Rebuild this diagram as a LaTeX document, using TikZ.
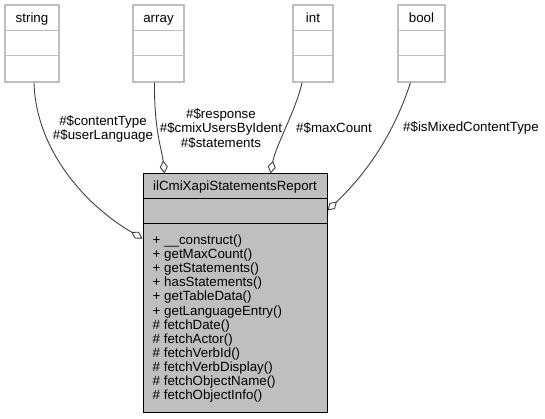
\documentclass[tikz,border=0pt]{standalone}
\usepackage{fontspec}
\setmainfont{Liberation Sans}
\usetikzlibrary{arrows.meta}
\definecolor{boxgray}{HTML}{BFBFBF}
\definecolor{edgegray}{HTML}{404040}

\begin{document}
\begin{tikzpicture}[x=1pt, y=-1pt,
    font=\fontsize{13.33}{14.1}\selectfont,
    typebox/.style={draw=boxgray, line width=1.3pt, fill=white, inner sep=0pt},
    mainbox/.style={draw=black, fill=boxgray, line width=1pt, inner sep=0pt},
    member/.style={draw=edgegray, line width=0.9pt,
        -{Diamond[open, length=13pt, width=8pt, line width=0.9pt]}},
    lbl/.style={align=center, inner sep=0pt, text=black}]

        \useasboundingbox (0,0) rectangle (545,419);

        %Type boxes
        \node [typebox, minimum width=54pt, minimum height=77pt] (string) at (32,43.5)  {};
        \node [typebox, minimum width=51pt, minimum height=77pt] (array)  at (158.5,43.5) {};
        \node [typebox, minimum width=40pt, minimum height=77pt] (int)    at (313,43.5) {};
        \node [typebox, minimum width=47pt, minimum height=77pt] (bool)   at (421.5,43.5) {};
        \foreach \t in {string, array, int, bool} {
          \node [anchor=base] (\t-name) at ([yshift=-18]\t.north) {\t};
          \draw [boxgray, line width=1.3pt] ([yshift=-26]\t.north west) -- ([yshift=-26]\t.north east);
          \draw [boxgray, line width=1.3pt] ([yshift=-51]\t.north west) -- ([yshift=-51]\t.north east);
        }

        %Report class
        \node [mainbox, minimum width=184pt, minimum height=238pt] (main) at (235,293) {};
        \node [anchor=base] (main-name) at ([yshift=-17]main.north) {ilCmiXapiStatementsReport};
        \draw [line width=1pt] ([yshift=-25]main.north west) -- ([yshift=-25]main.north east);
        \draw [line width=1.3pt] ([yshift=-50]main.north west) -- ([yshift=-50]main.north east);
        \foreach \m [count=\i from 0] in {+ \_\_construct(), + getMaxCount(), + getStatements(),
            + hasStatements(), + getTableData(), + getLanguageEntry(), \# fetchDate(),
            \# fetchActor(), \# fetchVerbId(), \# fetchVerbDisplay(), \# fetchObjectName(),
            \# fetchObjectInfo()}
          \node [anchor=base west, inner sep=0pt] (m\i) at ([xshift=10, yshift={-71-14.1*\i}]main.north west) {\m};

        %Members
        \draw [member] ([xshift=2]string.south) .. controls (36,150) and (85,205) .. ([yshift=-65]main.north west);
        \draw [member] ([xshift=-4]array.south) .. controls (154,130) and (162,150) .. ([xshift=22]main.north west);
        \draw [member] ([xshift=-11]int.south) .. controls (296,110) and (276,145) .. ([xshift=128]main.north west);
        \draw [member] ([xshift=-11]bool.south) .. controls (395,130) and (370,170) .. ([yshift=-37]main.north east);

        %Labels
        \node [lbl] (ct-lbl)   at (103,129) {\#\$contentType\\\#\$userLanguage};
        \node [lbl] (arr-lbl)  at (221,128.5) {\#\$response\\\#\$cmixUsersByIdent\\\#\$statements};
        \node [lbl] (int-lbl)  at (334,128) {\#\$maxCount};
        \node [lbl] (bool-lbl) at (471,128) {\#\$isMixedContentType};

\end{tikzpicture}
\end{document}
